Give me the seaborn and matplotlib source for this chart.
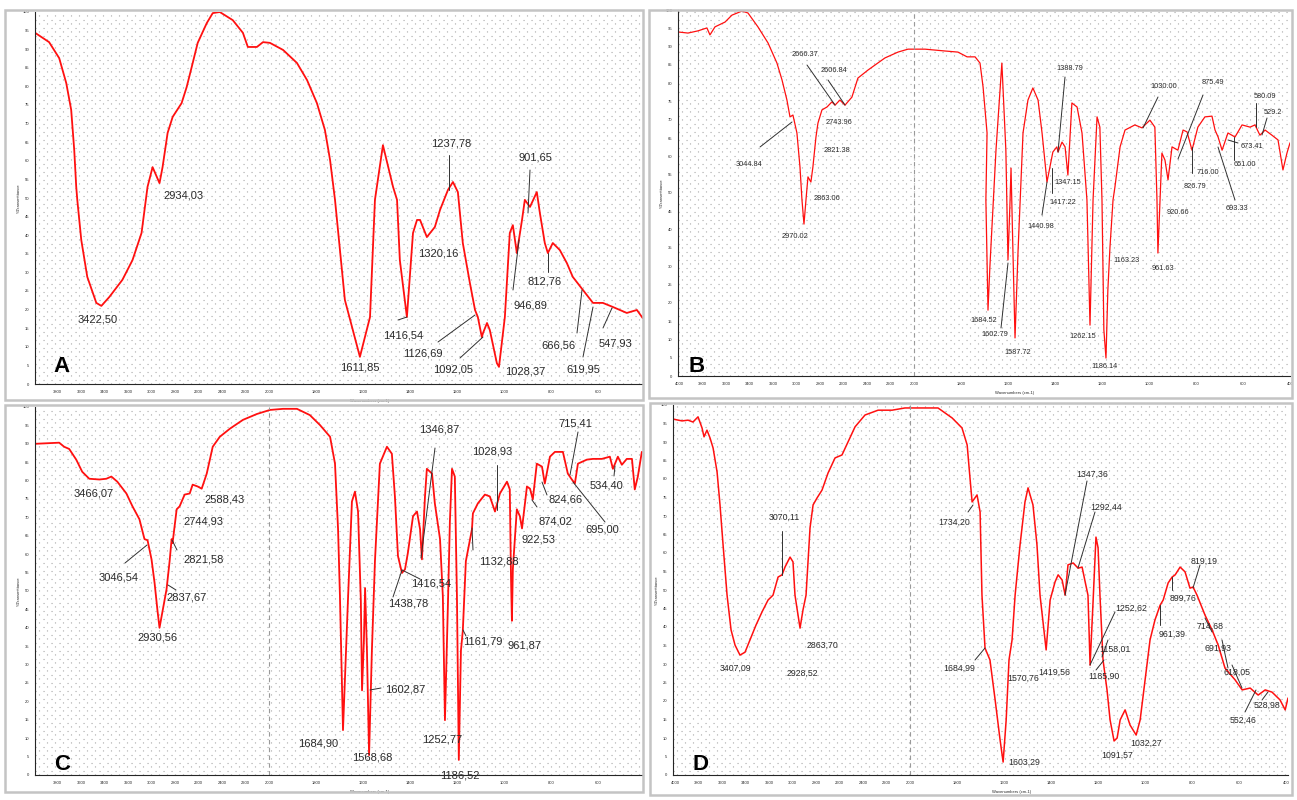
import numpy as np
import matplotlib.pyplot as plt
import matplotlib.transforms as mtransforms
from matplotlib.lines import Line2D
from matplotlib.patches import Rectangle
from matplotlib.ticker import FixedLocator, MultipleLocator
import seaborn as sns

sns.set_style('white')
plt.rcParams['font.family'] = ['Liberation Sans', 'DejaVu Sans']

W, H = 1297, 800

# ---- spectrum A (wavenumber cm-1, transmittance %)
wn_a = [3991, 3872, 3786, 3726, 3684, 3658, 3641, 3632, 3598, 3547, 3470, 3427, 3359, 3248, 3162, 3085,
        3034, 2991, 2932, 2906, 2863, 2820, 2744, 2701, 2658, 2607, 2530, 2479, 2419, 2308, 2222, 2180,
        2103, 2051, 1996, 1940, 1881, 1838, 1796, 1762, 1740, 1719, 1677, 1613, 1570, 1549, 1515, 1472,
        1455, 1443, 1413, 1387, 1370, 1357, 1328, 1294, 1272, 1238, 1217, 1196, 1175, 1145, 1123, 1111,
        1094, 1089, 1072, 1060, 1030, 1021, 996, 975, 962, 945, 923, 911, 889, 860, 847, 826, 813, 792,
        762, 732, 707, 664, 621, 579, 536, 477, 434, 409]
t_a = [94.4, 91.9, 87.6, 80.9, 73.7, 62.9, 53.0, 49.5, 38.7, 28.8, 21.8, 21.0, 23.4, 28.0, 33.3, 40.6,
       53.0, 58.3, 54.0, 58.3, 67.5, 71.8, 75.5, 79.8, 85.2, 91.7, 97.0, 99.7, 100, 97.8, 94.4, 90.6,
       90.6, 91.9, 91.7, 89.8, 86.3, 81.7, 75.5, 68.3, 60.2, 49.5, 22.6, 7.3, 18.0, 49.5, 64.2, 53.0,
       49.5, 33.3, 18.0, 40.6, 44.1, 44.1, 39.5, 42.2, 46.8, 52.2, 54.3, 51.6, 37.9, 27.2, 19.9, 18.0,
       12.6, 13.7, 16.4, 14.5, 5.6, 4.6, 18.0, 40.6, 42.7, 35.2, 44.1, 49.5, 47.6, 51.6, 46.0, 37.9, 35.2, 37.9,
       36.0, 32.5, 28.8, 25.3, 21.8, 21.8, 20.7, 19.1, 19.9, 17.7]

# ---- spectrum B
wn_b = [4008, 3923, 3838, 3762, 3736, 3693, 3608, 3549, 3464, 3413, 3328, 3242, 3166, 3123, 3081, 3055,
        3030, 2996, 2970, 2953, 2936, 2919, 2902, 2877, 2860, 2834, 2817, 2783, 2740, 2698, 2672, 2630,
        2587, 2528, 2477, 2391, 2247, 2136, 2051, 1953, 1868, 1813, 1774, 1740, 1719, 1706, 1689, 1694,
        1685, 1677, 1651, 1626, 1609, 1600, 1591, 1587, 1579, 1570, 1557, 1536, 1515, 1494, 1472, 1455,
        1434, 1409, 1392, 1387, 1370, 1357, 1345, 1328, 1306, 1285, 1264, 1251, 1238, 1221, 1209, 1200,
        1192, 1183, 1175, 1166, 1153, 1145, 1123, 1102, 1060, 1030, 996, 975, 966, 962, 953, 945, 932,
        919, 902, 877, 855, 838, 817, 792, 762, 732, 719, 706, 689, 664, 634, 604, 570, 549, 528, 506,
        477, 451, 430, 413, 400]
t_b = [94.0, 93.7, 94.3, 95.1, 93.2, 95.4, 96.7, 98.6, 99.7, 99.2, 95.4, 91.0, 85.5, 80.9, 75.4, 70.8,
       71.3, 66.4, 57.1, 48.1, 41.5, 48.1, 54.4, 53.0, 57.1, 65.3, 69.1, 72.7, 73.5, 74.9, 74.0, 75.4,
       74.0, 76.2, 81.4, 83.6, 86.9, 88.5, 89.3, 89.3, 88.8, 88.5, 87.2, 87.2, 85.5, 79.0, 66.4, 48.1,
       18.0, 29.8, 61.7, 85.5, 61.7, 31.7, 48.1, 56.8, 34.4, 10.4, 34.4, 66.4, 75.4, 78.7, 75.4, 66.4,
       53.0, 61.2, 62.6, 61.2, 63.9, 62.6, 54.9, 74.6, 73.5, 66.4, 48.1, 13.9, 48.1, 70.8, 68.0, 48.1,
       12.6, 4.9, 23.5, 35.2, 48.1, 51.6, 62.6, 67.2, 68.6, 67.8, 69.9, 68.0, 48.1, 33.6, 48.1, 60.9, 59.0,
       53.6, 62.6, 61.7, 67.2, 66.7, 61.7, 68.0, 70.8, 71.0, 67.2, 65.3, 61.7, 66.4, 65.3, 68.6, 68.0, 68.6, 65.8, 67.2,
       65.8, 64.5, 56.3, 60.9, 63.7]

# ---- spectrum C
wn_c = [3991, 3786, 3744, 3701, 3641, 3590, 3530, 3444, 3385, 3342, 3291, 3214, 3162, 3103, 3060, 3034,
        3000, 2974, 2949, 2932, 2906, 2872, 2846, 2829, 2821, 2786, 2761, 2718, 2675, 2650, 2607, 2573,
        2530, 2479, 2419, 2333, 2222, 2103, 1996, 1940, 1881, 1826, 1783, 1740, 1719, 1706, 1698, 1685,
        1664, 1647, 1634, 1621, 1609, 1604, 1596, 1591, 1583, 1574, 1562, 1549, 1528, 1498, 1477, 1464,
        1451, 1434, 1421, 1409, 1387, 1370, 1357, 1349, 1336, 1328, 1306, 1294, 1272, 1260, 1251, 1238,
        1230, 1221, 1209, 1200, 1192, 1183, 1175, 1162, 1136, 1132, 1111, 1081, 1060, 1038, 1017, 987,
        975, 970, 966, 962, 945, 932, 923, 902, 889, 877, 860, 838, 826, 804, 783, 749, 728, 711, 698,
        685, 647, 621, 583, 549, 536, 515, 498, 477, 455, 443, 430, 413]
t_c = [90.0, 90.3, 89.2, 88.6, 85.7, 82.4, 80.5, 80.3, 80.5, 81.1, 79.7, 76.5, 73.0, 69.5, 64.1, 63.8,
       58.6, 52.2, 44.6, 40.0, 44.6, 50.5, 58.1, 64.1, 63.0, 72.2, 73.0, 76.2, 76.5, 78.9, 78.4, 77.8,
       81.9, 89.2, 91.9, 94.1, 96.5, 98.1, 99.2, 99.5, 99.5, 97.8, 95.1, 91.9, 84.6, 66.8, 48.6, 12.2,
       47.3, 74.3, 77.0, 71.6, 47.3, 23.0, 36.5, 50.8, 33.8, 5.4, 33.8, 58.1, 84.6, 89.2, 87.3, 75.7,
       59.5, 54.9, 55.9, 60.3, 70.3, 71.6, 66.8, 58.6, 75.7, 83.2, 81.9, 73.8, 64.1, 48.6, 14.9, 47.3,
       68.9, 83.2, 81.1, 48.6, 4.1, 33.8, 39.2, 58.1, 66.8, 71.1, 73.8, 76.2, 75.7, 71.6, 76.5, 79.7,
       77.6, 54.1, 41.9, 55.9, 72.2, 70.3, 67.0, 78.4, 77.8, 74.9, 84.6, 83.8, 79.2, 86.5, 87.8, 87.8, 81.9, 80.3, 79.2,
       84.6, 85.7, 85.9, 85.9, 86.5, 83.2, 86.5, 84.3, 85.9, 85.9, 77.6, 81.1, 87.8]

# ---- spectrum D
wn_d = [4017, 3940, 3889, 3847, 3804, 3770, 3753, 3728, 3702, 3676, 3642, 3617, 3591, 3557, 3523, 3489,
        3447, 3404, 3362, 3311, 3259, 3208, 3166, 3123, 3089, 3064, 3021, 2996, 2979, 2953, 2936, 2911,
        2885, 2851, 2825, 2791, 2749, 2698, 2638, 2579, 2528, 2468, 2383, 2272, 2153, 2043, 1949, 1881,
        1821, 1779, 1757, 1745, 1736, 1715, 1702, 1694, 1681, 1660, 1638, 1617, 1604, 1591, 1579, 1566,
        1553, 1532, 1511, 1498, 1477, 1460, 1447, 1421, 1404, 1383, 1370, 1353, 1340, 1328, 1306, 1285,
        1268, 1255, 1243, 1234, 1221, 1209, 1200, 1192, 1179, 1162, 1149, 1132, 1119, 1106, 1085, 1064,
        1038, 1021, 1000, 979, 958, 936, 923, 902, 885, 872, 851, 830, 809, 796, 779, 745, 715, 689, 660,
        617, 587, 553, 519, 489, 460, 426, 404, 392]
t_d = [96.2, 95.7, 95.9, 95.4, 96.8, 93.8, 91.4, 93.2, 91.1, 88.4, 81.9, 73.0, 62.2, 48.6, 39.2, 35.1,
       32.4, 33.2, 36.5, 40.5, 44.1, 47.3, 48.6, 53.5, 54.1, 56.2, 58.9, 57.6, 48.6, 43.2, 39.7, 44.6,
       48.6, 66.8, 73.0, 74.9, 77.0, 81.6, 85.7, 86.5, 90.0, 94.1, 97.3, 98.6, 98.6, 99.2, 99.2, 99.2,
       96.5, 93.8, 89.2, 80.3, 73.8, 75.7, 71.1, 48.6, 34.3, 31.1, 20.3, 9.5, 3.5, 14.9, 31.1, 36.5,
       48.6, 62.2, 73.8, 77.6, 73.0, 62.2, 48.6, 33.8, 47.3, 52.2, 54.1, 52.7, 48.6, 56.8, 57.3, 55.9,
       56.2, 52.2, 48.6, 29.7, 47.3, 64.3, 61.4, 48.6, 31.1, 23.0, 14.9, 9.2, 10.0, 14.9, 17.6, 13.5,
       10.8, 14.9, 25.7, 36.5, 41.9, 45.9, 47.3, 51.9, 53.5, 54.1, 56.2, 54.9, 50.5, 50.8, 48.6, 43.2, 39.2, 35.1, 28.9,
       25.7, 23.0, 23.5, 21.6, 23.0, 22.4, 20.3, 17.6, 20.8]

# ---- peak labels
peaks_a = ['2934,03', '3422,50', '1611,85', '1416,54', '1320,16', '1237,78', '1126,69', '1092,05',
           '1028,37', '946,89', '901,65', '812,76', '666,56', '619,95', '547,93']
peaks_b = ['2666.37', '2606.84', '2743.96', '2821.38', '3044.84', '2863.06', '2970.02', '1684.52',
           '1602.79', '1587.72', '1440.98', '1417.22', '1347.15', '1388.79', '1262.15', '1186.14',
           '1163.23', '1030.00', '961.63', '920.66', '875.49', '826.79', '716.00', '693.33', '651.00',
           '673.41', '580.09', '529.2']
peaks_c = ['3466,07', '2588,43', '2744,93', '3046,54', '2821,58', '2837,67', '2930,56', '1346,87',
           '1028,93', '715,41', '534,40', '824,66', '874,02', '695,00', '922,53', '1132,88', '1416,54',
           '1438,78', '1602,87', '1684,90', '1568,68', '1252,77', '1186,52', '1161,79', '961,87']
peaks_d = ['3070,11', '1734,20', '1347,36', '1292,44', '819,19', '2863,70', '3407,09', '2928,52',
           '1684,99', '1419,56', '1570,76', '1603,29', '1252,62', '1158,01', '1185,90', '1091,57',
           '1032,27', '961,39', '899,76', '714,68', '691,93', '618,05', '552,46', '528,98']

# label centre and leader line, in picture pixels (layout only)
pos_a = [(183, 196, None), (98, 320, None), (360, 368, None), (403, 335, (398, 320, 407, 317)),
         (438, 253, None), (451, 143, (449, 155, 449, 190)), (423, 353, (438, 342, 475, 315)),
         (453, 370, (460, 358, 483, 337)), (525, 372, None), (530, 305, (513, 290, 519, 240)),
         (535, 157, (530, 170, 528, 213)), (545, 282, (548, 272, 548, 253)),
         (558, 345, (577, 333, 582, 290)), (583, 370, (583, 357, 593, 307)),
         (615, 343, (603, 328, 612, 308))]
pos_b = [(805, 55, (807, 65, 835, 105)), (834, 71, (828, 80, 845, 105)), (839, 123, None),
         (837, 151, None), (749, 164, (760, 147, 792, 122)), (827, 198, None), (795, 237, None),
         (984, 320, None), (995, 335, (1001, 328, 1008, 263)), (1018, 352, None),
         (1041, 226, (1042, 215, 1047, 182)), (1063, 203, (1052, 193, 1052, 168)), (1068, 183, None),
         (1070, 68, (1065, 77, 1058, 152)), (1083, 337, None), (1105, 367, None), (1127, 260, None),
         (1164, 87, (1158, 97, 1143, 128)), (1163, 269, None), (1178, 213, None),
         (1213, 82, (1203, 95, 1178, 159)), (1195, 187, (1192, 173, 1192, 147)), (1208, 173, None),
         (1237, 208, (1218, 147, 1235, 200)), (1245, 165, (1234, 137, 1234, 160)),
         (1252, 147, (1228, 140, 1238, 143)), (1265, 97, (1256, 103, 1256, 127)),
         (1273, 113, (1267, 118, 1262, 135))]
pos_c = [(94, 493, None), (225, 499, None), (203, 521, None), (119, 577, (125, 563, 147, 545)),
         (204, 560, (177, 550, 172, 540)), (187, 597, (176, 590, 168, 585)), (157, 637, None),
         (439, 430, (435, 448, 421, 558)), (492, 452, (497, 465, 497, 510)),
         (575, 423, (578, 432, 570, 475)), (606, 485, (614, 476, 615, 466)),
         (566, 499, (542, 482, 547, 495)), (555, 521, (532, 500, 537, 507)),
         (602, 530, (573, 482, 605, 522)), (538, 539, None), (499, 562, (472, 528, 473, 550)),
         (431, 583, (402, 570, 420, 579)), (408, 603, (402, 570, 393, 597)),
         (405, 690, (370, 690, 381, 688)), (318, 743, None), (372, 758, None), (442, 740, None),
         (460, 775, None), (483, 641, (463, 630, 466, 636)), (524, 645, None)]
pos_d = [(784, 517, (782, 531, 782, 575)), (954, 522, (968, 512, 973, 505)),
         (1092, 474, (1087, 481, 1065, 595)), (1106, 507, (1095, 512, 1078, 568)),
         (1204, 561, (1200, 565, 1193, 588)), (822, 645, None), (736, 668, None), (802, 673, None),
         (959, 668, (975, 660, 985, 648)), (1054, 672, None), (1023, 678, None), (1024, 762, None),
         (1131, 608, (1115, 612, 1090, 665)), (1115, 649, (1102, 657, 1108, 640)),
         (1104, 676, (1096, 670, 1104, 660)), (1117, 755, None), (1146, 743, None),
         (1172, 634, (1160, 625, 1160, 605)), (1183, 598, (1172, 590, 1172, 577)),
         (1210, 626, (1205, 618, 1212, 632)), (1218, 648, (1222, 640, 1228, 668)),
         (1237, 672, (1232, 665, 1242, 688)), (1243, 720, (1245, 712, 1256, 690)),
         (1267, 705, (1262, 700, 1268, 692))]


def fwd(x):
    x = np.asarray(x, dtype=float)
    return np.where(x > 2000, 2000 + (x - 2000) / 2, x)


def inv(u):
    u = np.asarray(u, dtype=float)
    return np.where(u > 2000, 2000 + (u - 2000) * 2, u)


fig = plt.figure(figsize=(W / 100, H / 100), dpi=100)
px = mtransforms.Affine2D().scale(1 / W, -1 / H).translate(0, 1) + fig.transFigure


def rect(x0, y0, x1, y1):
    return [x0 / W, 1 - y1 / H, (x1 - x0) / W, (y1 - y0) / H]


def panel(frame, area, xlim, wn, t, lw, letter, letter_xy, peaks, pos, fs, brk):
    fig.add_artist(Rectangle((frame[0], frame[1]), frame[2] - frame[0], frame[3] - frame[1],
                             transform=px, fill=False, ec='#c4c4c4', lw=1.8))
    # dotted background grid
    bg = fig.add_axes(rect(*area))
    w, h = area[2] - area[0], area[3] - area[1]
    bg.set_xlim(0, w)
    bg.set_ylim(0, h)
    bg.set_xticks(np.arange(4, w, 8))
    bg.set_yticks(np.arange(4, h, 8))
    bg.grid(True, color='#a8a8a8', lw=0.8, ls=(0, (1.0, 6.2)))
    bg.tick_params(length=0, labelbottom=False, labelleft=False)
    for s in bg.spines.values():
        s.set_visible(False)

    ax = fig.add_axes(rect(*area))
    ax.patch.set_alpha(0)
    ax.set_xscale('function', functions=(fwd, inv))
    sns.lineplot(x=wn, y=t, ax=ax, color='#ff1010', lw=lw, sort=False, estimator=None)
    ax.set_xlim(*xlim)
    ax.set_ylim(0, 100)
    if brk:
        ax.axvline(2000, color='#9a9a9a', lw=0.8, ls=(0, (4, 3)))
    ax.spines['top'].set_visible(False)
    ax.spines['right'].set_visible(False)
    ax.spines['left'].set_linewidth(0.8)
    ax.spines['bottom'].set_linewidth(0.8)
    ax.xaxis.set_major_locator(FixedLocator(list(range(4000, 1999, -200)) + list(range(1800, 399, -200))))
    ax.xaxis.set_minor_locator(FixedLocator(list(range(4000, 1999, -100)) + list(range(1950, 399, -50))))
    ax.yaxis.set_major_locator(MultipleLocator(5))
    ax.yaxis.set_minor_locator(MultipleLocator(2.5))
    ax.tick_params(which='major', labelsize=3, length=2.5, width=0.6, pad=1.5)
    ax.tick_params(which='minor', length=1.5, width=0.5)
    ax.set_xlabel('Wavenumbers (cm-1)', fontsize=3, labelpad=1)
    ax.xaxis.set_label_coords(0.55, -0.04)
    ax.set_ylabel('%Transmittance', fontsize=3, labelpad=1)

    for lab, (cx, cy, lead) in zip(peaks, pos):
        fig.text(cx, cy, lab, transform=px, ha='center', va='center', fontsize=fs, color='#2a2a2a')
        if lead:
            fig.add_artist(Line2D([lead[0], lead[2]], [lead[1], lead[3]], transform=px,
                                  color='#303030', lw=0.7))
    fig.text(letter_xy[0], letter_xy[1], letter, transform=px, ha='center', va='center',
             fontsize=16, fontweight='bold', color='black')


panel((5, 10, 643, 400), (35, 12, 643, 384), (3992, 408), wn_a, t_a, 1.3, 'A', (62, 367),
      peaks_a, pos_a, 8, False)
panel((649, 10, 1292, 398), (678, 10, 1290, 376), (4008, 400), wn_b, t_b, 0.9, 'B', (697, 367),
      peaks_b, pos_b, 5.3, True)
panel((5, 405, 643, 792), (35, 407, 643, 775), (3992, 408), wn_c, t_c, 1.3, 'C', (62, 765),
      peaks_c, pos_c, 8.0, True)
panel((650, 403, 1292, 795), (673, 405, 1288, 775), (4017, 392), wn_d, t_d, 1.1, 'D', (700, 765),
      peaks_d, pos_d, 6.3, True)

plt.savefig('out.png', dpi=100)
plt.close()
